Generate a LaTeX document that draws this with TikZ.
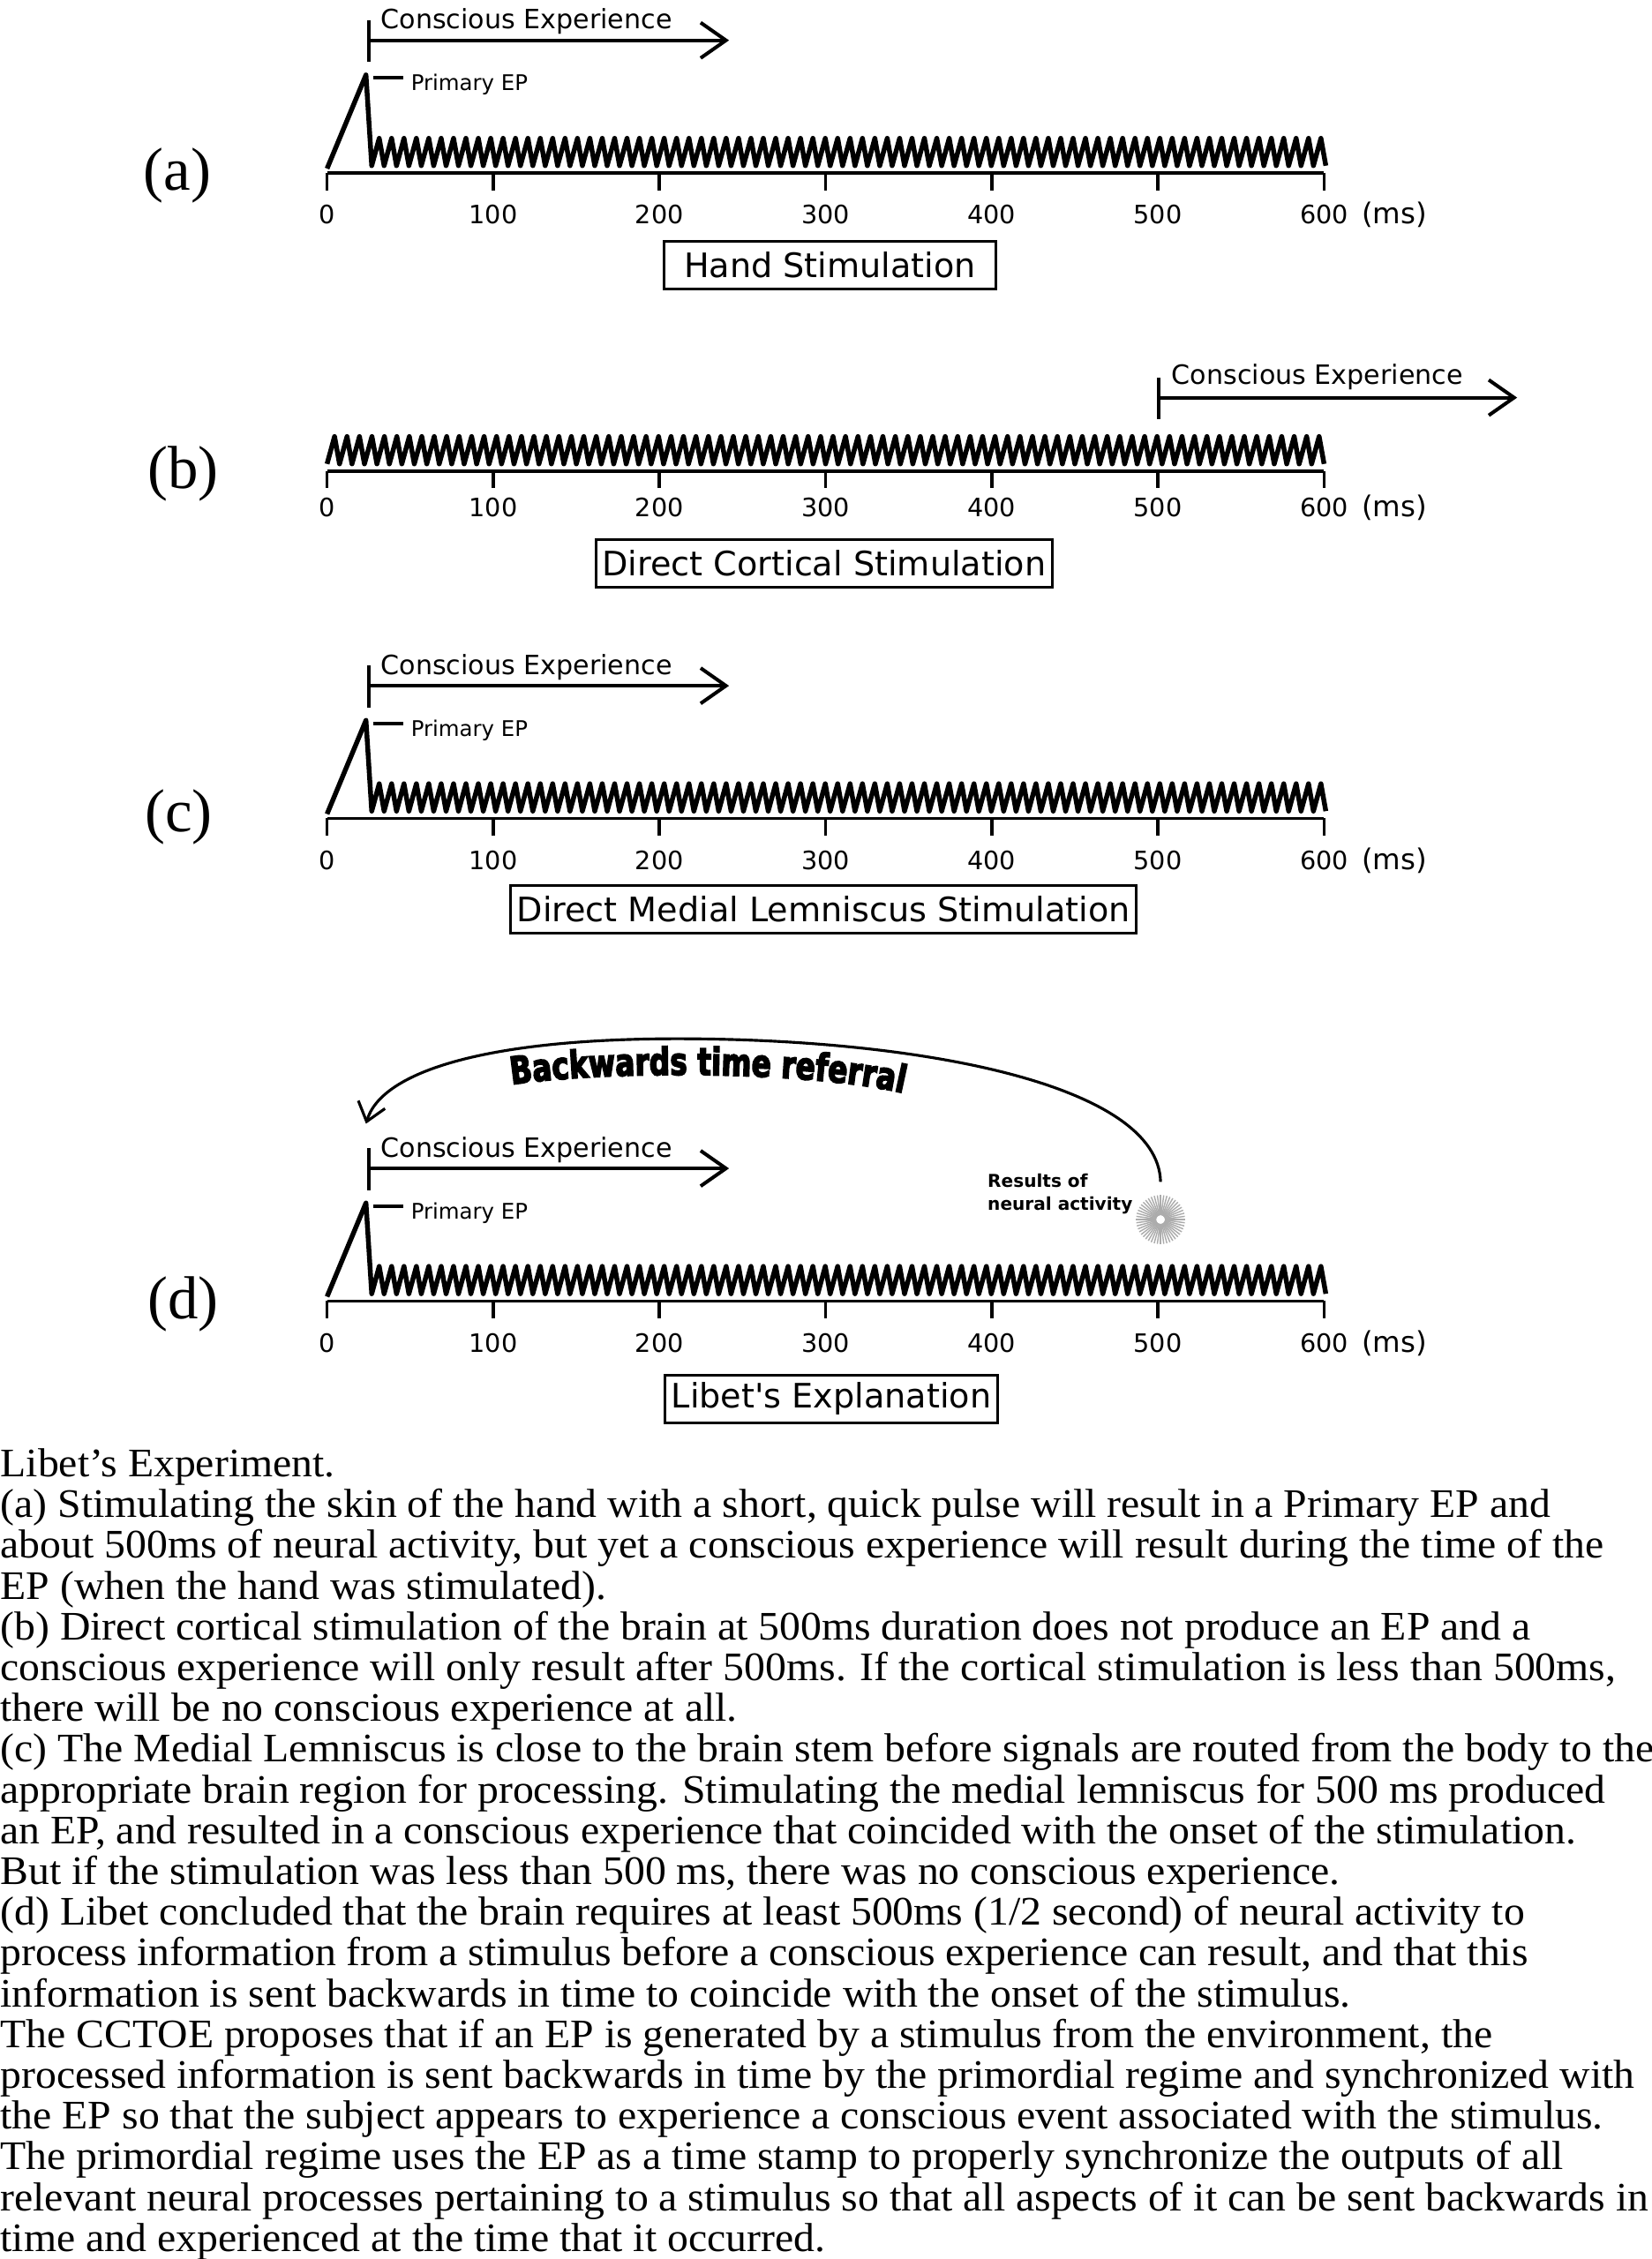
\documentclass[tikz,border=0pt]{standalone}
\usepackage{fontspec}
\setsansfont{DejaVu Sans}
\newfontfamily\serifcap[FakeStretch=1.04]{Liberation Serif}
\newfontfamily\panelfont{Liberation Serif}
\newfontfamily\heavyfont[FakeStretch=0.76,FakeBold=3.5]{DejaVu Sans}
\usetikzlibrary{arrows.meta, positioning, decorations.text}
\tikzset{
  axisline/.style={line width=1.25pt},
  ticklabel/.style={font=\sffamily\fontsize{10}{12}\selectfont,inner sep=0pt},
  unitlabel/.style={font=\sffamily\fontsize{11.3}{13}\selectfont,inner sep=0pt},
  wave/.style={line width=1.9pt,line join=round},
  celine/.style={line width=1.4pt},
  cearrow/.style={celine,-{Straight Barb[length=10pt,width=14pt]}},
  celabel/.style={font=\sffamily\fontsize{10.5}{12}\selectfont,inner sep=0pt,anchor=base west},
  eplabel/.style={font=\sffamily\fontsize{8.5}{10}\selectfont,inner sep=0pt,anchor=base west},
  stimbox/.style={draw,line width=1.1pt,font=\sffamily\fontsize{13.3}{15}\selectfont,inner xsep=2.5pt,inner ysep=0pt,minimum height=0.66cm},
  panellabel/.style={font=\panelfont\fontsize{24}{28}\selectfont,inner sep=0pt},
  resultlabel/.style={font=\sffamily\bfseries\fontsize{7}{9.1}\selectfont,align=left,inner sep=0pt},
  burstnode/.style={circle,minimum size=0.68cm,inner sep=0pt},
  ray/.style={gray!65,line width=0.5pt},
  referral/.style={line width=1.1pt,-{Straight Barb[length=7pt,width=11pt]}},
  captext/.style={font=\serifcap\fontsize{16}{16}\selectfont,inner sep=0pt,anchor=base west},
}

\begin{document}
\begin{tikzpicture}[x=0.02cm,y=-0.02cm]
  \useasboundingbox (0,0) rectangle (1146,1568);

  % (a) hand stimulation
  \begin{scope}[shift={(0,120)}]
    \node[panellabel] (laba) at (123,2) {(a)};
    \draw[axisline] (227,0) -- (919,0);
    \foreach \t in {0,100,...,600} {
      \draw[axisline] ({227+1.1533*\t},0) -- ++(0,12);
      \node[ticklabel] (a\t) at ({227+1.1533*\t},29) {\t};
    }
    \node[unitlabel,base right=5pt of a600] (msa) {(ms)};
    \draw[wave] (227,-3) -- (254,-68) -- (258,-5)
      \foreach \k in {1,...,77} { -- ++(5.2,-19) -- ++(3.4,19) };
    \draw[celine] (259,-66) -- (280,-66);
    \node[eplabel] (epa) at (285,-57) {Primary EP};
    \coordinate (cea) at (256,-92);
    \coordinate (ceaend) at (506,-92);
    \draw[celine] (256,-106) -- (256,-77);
    \draw[cearrow] (cea) -- (ceaend);
    \node[celabel] (cetxta) at (264,-100) {Conscious Experience};
    \node[stimbox,inner xsep=8pt] (boxa) at (576,64) {Hand Stimulation};
  \end{scope}

  % (b) direct cortical stimulation
  \begin{scope}[shift={(0,327)}]
    \node[panellabel] (labb) at (127,2) {(b)};
    \draw[axisline] (227,0) -- (919,0);
    \foreach \t in {0,100,...,600} {
      \draw[axisline] ({227+1.1533*\t},0) -- ++(0,12);
      \node[ticklabel] (b\t) at ({227+1.1533*\t},25) {\t};
    }
    \node[unitlabel,base right=5pt of b600] (msb) {(ms)};
    \draw[wave] (227,-5)
      \foreach \k in {1,...,80} { -- ++(5.2,-19) -- ++(3.45,19) };
    \coordinate (ceb) at (804,-51);
    \coordinate (cebend) at (1053,-51);
    \draw[celine] (804,-65) -- (804,-36);
    \draw[cearrow] (ceb) -- (cebend);
    \node[celabel] (cetxtb) at (813,-60) {Conscious Experience};
    \node[stimbox] (boxb) at (572,64) {Direct Cortical Stimulation};
  \end{scope}

  % (c) medial lemniscus
  \begin{scope}[shift={(0,568)}]
    \node[panellabel] (labc) at (124,-1) {(c)};
    \draw[axisline] (227,0) -- (919,0);
    \foreach \t in {0,100,...,600} {
      \draw[axisline] ({227+1.1533*\t},0) -- ++(0,12);
      \node[ticklabel] (c\t) at ({227+1.1533*\t},29) {\t};
    }
    \node[unitlabel,base right=5pt of c600] (msc) {(ms)};
    \draw[wave] (227,-3) -- (254,-68) -- (258,-5)
      \foreach \k in {1,...,77} { -- ++(5.2,-19) -- ++(3.4,19) };
    \draw[celine] (259,-66) -- (280,-66);
    \node[eplabel] (epc) at (285,-57) {Primary EP};
    \coordinate (cec) at (256,-92);
    \coordinate (cecend) at (506,-92);
    \draw[celine] (256,-106) -- (256,-77);
    \draw[cearrow] (cec) -- (cecend);
    \node[celabel] (cetxtc) at (264,-100) {Conscious Experience};
    \node[stimbox] (boxc) at (571.5,63) {Direct Medial Lemniscus Stimulation};
  \end{scope}

  % (d) explanation
  \begin{scope}[shift={(0,903)}]
    \node[panellabel] (labd) at (127,2) {(d)};
    \draw[axisline] (227,0) -- (919,0);
    \foreach \t in {0,100,...,600} {
      \draw[axisline] ({227+1.1533*\t},0) -- ++(0,12);
      \node[ticklabel] (d\t) at ({227+1.1533*\t},29) {\t};
    }
    \node[unitlabel,base right=5pt of d600] (msd) {(ms)};
    \draw[wave] (227,-3) -- (254,-68) -- (258,-5)
      \foreach \k in {1,...,77} { -- ++(5.2,-19) -- ++(3.4,19) };
    \draw[celine] (259,-66) -- (280,-66);
    \node[eplabel] (epd) at (285,-57) {Primary EP};
    \coordinate (ced) at (256,-92);
    \coordinate (cedend) at (506,-92);
    \draw[celine] (256,-106) -- (256,-77);
    \draw[cearrow] (ced) -- (cedend);
    \node[celabel] (cetxtd) at (264,-100) {Conscious Experience};
    \node[stimbox] (boxd) at (577,68) {Libet\textquotesingle s Explanation};
    % neural activity burst
    \node[burstnode] (burst) at (805.5,-56.5) {};
    \foreach \a in {0,7.5,...,352.5}
      \draw[ray] (burst.center) ++(\a:3) -- ++(\a:14);
    \node[resultlabel,anchor=south east] (results) at ([xshift=-1pt,yshift=2pt]burst.west) {Results of\\neural activity};
    \coordinate (reftip) at (254,-123);
    \draw[referral] ([yshift=5pt]burst.north) .. controls (804,-150) and (640,-182) .. (470,-182)
      .. controls (340,-182) and (265,-160) .. (reftip);
    \path[decorate,decoration={text along path,text align=center,
      text={|\heavyfont\bfseries\fontsize{15}{17}\selectfont|Backwards time referral}}]
      (354,-150) .. controls (420,-160) and (560,-160) .. (628,-144);
  \end{scope}

  % caption
  \foreach \ln [count=\i from 0] in {%
{Libet’s Experiment.},%
{(a) Stimulating the skin of the hand with a short, quick pulse will result in a Primary EP and},%
{about 500ms of neural activity, but yet a conscious experience will result during the time of the},%
{EP (when the hand was stimulated).},%
{(b) Direct cortical stimulation of the brain at 500ms duration does not produce an EP and a},%
{conscious experience will only result after 500ms. If the cortical stimulation is less than 500ms,},%
{there will be no conscious experience at all.},%
{(c) The Medial Lemniscus is close to the brain stem before signals are routed from the body to the},%
{appropriate brain region for processing. Stimulating the medial lemniscus for 500 ms produced},%
{an EP, and resulted in a conscious experience that coincided with the onset of the stimulation.},%
{But if the stimulation was less than 500 ms, there was no conscious experience.},%
{(d) Libet concluded that the brain requires at least 500ms (1/2 second) of neural activity to},%
{process information from a stimulus before a conscious experience can result, and that this},%
{information is sent backwards in time to coincide with the onset of the stimulus.},%
{The CCTOE proposes that if an EP is generated by a stimulus from the environment, the},%
{processed information is sent backwards in time by the primordial regime and synchronized with},%
{the EP so that the subject appears to experience a conscious event associated with the stimulus.},%
{The primordial regime uses the EP as a time stamp to properly synchronize the outputs of all},%
{relevant neural processes pertaining to a stimulus so that all aspects of it can be sent backwards in},%
{time and experienced at the time that it occurred.}%
  }
    \node[captext] (cap\i) at (0,{1025+28.3*\i}) {\ln};
\end{tikzpicture}
\end{document}
